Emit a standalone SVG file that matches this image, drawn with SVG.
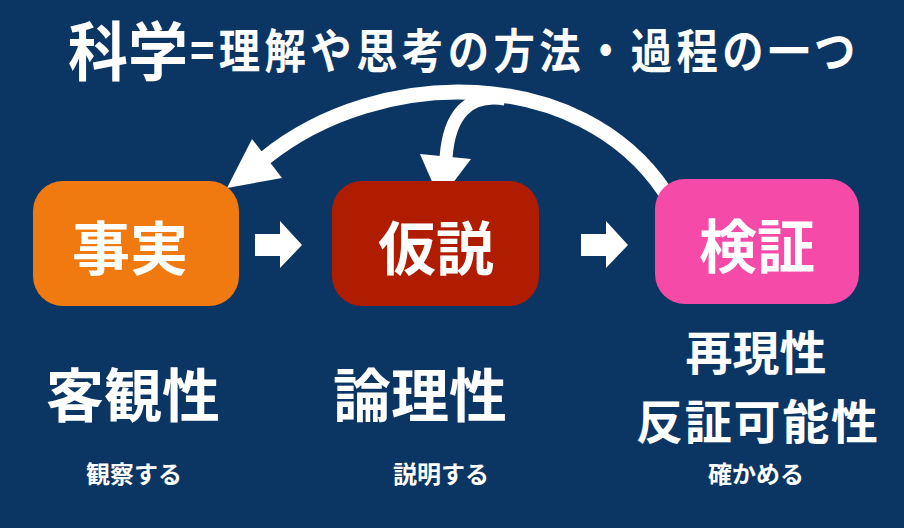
<svg xmlns="http://www.w3.org/2000/svg" width="904" height="528" viewBox="0 0 904 528">
<style>
text{font-family:"Noto Sans CJK JP","Noto Sans",sans-serif;font-weight:bold;fill:#ffffff;dominant-baseline:central}
.big{font-size:58px;text-anchor:middle}
.mid{font-size:47px;text-anchor:middle}
.small{font-size:24px;text-anchor:middle}
.wline{fill:none;stroke:#ffffff;stroke-width:15}
</style>
<rect width="904" height="528" fill="#0b3562"/>
<g id="title">
<text x="68" y="47" style="font-size:64px" textLength="120" lengthAdjust="spacingAndGlyphs">科学</text>
<g transform="translate(190,0) scale(0.88,1)">
<text x="0" y="48" style="font-size:47px" textLength="756" lengthAdjust="spacing">=理解や思考の方法・過程の一つ</text>
</g>
</g>
<g id="connectors">
<path class="wline" d="M665 192 C580 65 380 65 265 158"/>
<polygon points="227,188 252,139 282,178" fill="#ffffff"/>
<path class="wline" style="stroke-width:13" d="M505 99 C468 93 449 115 446 158"/>
<polygon points="420,154 471,159 440,200" fill="#ffffff"/>
<polygon points="255,234 280,234 280,221 302,245 280,268 280,256 255,256" fill="#ffffff"/>
<polygon points="581,234 606,234 606,221 628,245 606,268 606,256 581,256" fill="#ffffff"/>
</g>
<g id="node-jijitsu">
<rect x="33" y="181" width="206" height="125" rx="30" fill="#f07a10"/>
<text class="big" x="130" y="245">事実</text>
</g>
<g id="node-kasetsu">
<rect x="332" y="181" width="207" height="125" rx="30" fill="#b01c00"/>
<text class="big" x="436" y="245">仮説</text>
</g>
<g id="node-kensho">
<rect x="655" y="179" width="204" height="125" rx="30" fill="#f54aa8"/>
<text class="big" x="757" y="243">検証</text>
</g>
<g id="label-kyakkan">
<text class="big" x="133" y="392">客観性</text>
<text class="small" x="134" y="472">観察する</text>
</g>
<g id="label-ronri">
<text class="big" x="420" y="392">論理性</text>
<text class="small" x="441" y="472">説明する</text>
</g>
<g id="label-saigen">
<text class="mid" x="756" y="349">再現性</text>
<text class="mid" x="757" y="418" textLength="242" lengthAdjust="spacing">反証可能性</text>
<text class="small" x="756" y="472">確かめる</text>
</g>
</svg>
